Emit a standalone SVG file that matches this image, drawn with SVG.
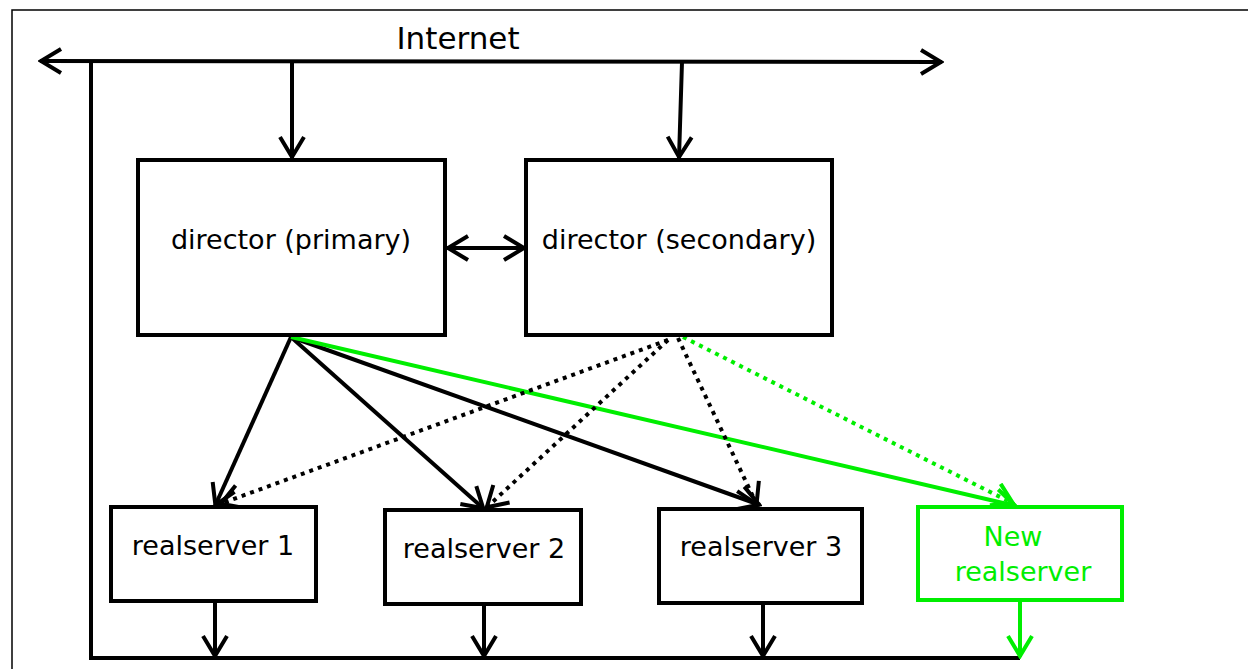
<svg xmlns="http://www.w3.org/2000/svg" width="1248" height="669" viewBox="0 0 1248 669">
<style>
.box{fill:#fff;stroke:#000;stroke-width:4}
.gbox{fill:#fff;stroke:#00ee00;stroke-width:4}
.t{font-family:"DejaVu Sans",sans-serif;font-size:27px;fill:#000;text-anchor:middle}
.gt{font-family:"DejaVu Sans",sans-serif;font-size:27px;fill:#00ee00;text-anchor:middle}
.ln{stroke:#000;stroke-width:4;fill:none}
.gl{stroke:#00ee00;stroke-width:4;fill:none}
.dot{stroke:#000;stroke-width:4;fill:none;stroke-dasharray:4 5}
.gdot{stroke:#00ee00;stroke-width:4;fill:none;stroke-dasharray:4 5}
</style>
<defs>
<marker id="a" viewBox="0 0 26 28" refX="24" refY="14" markerWidth="26" markerHeight="28" markerUnits="userSpaceOnUse" orient="auto-start-reverse">
<path d="M3,2 L23,14 L3,26" fill="none" stroke="#000" stroke-width="4"/>
</marker>
<marker id="ag" viewBox="0 0 26 28" refX="24" refY="14" markerWidth="26" markerHeight="28" markerUnits="userSpaceOnUse" orient="auto-start-reverse">
<path d="M3,2 L23,14 L3,26" fill="none" stroke="#00ee00" stroke-width="4"/>
</marker>
</defs>
<rect x="0" y="0" width="1248" height="669" fill="#fff"/>
<rect x="12" y="10" width="1300" height="700" fill="none" stroke="#000" stroke-width="1.5"/>
<g id="connectors">
<line class="ln" x1="40" y1="61" x2="942" y2="62" marker-start="url(#a)" marker-end="url(#a)"/>
<polyline class="ln" points="91,61 91,658 1020,658"/>
<line class="ln" x1="292" y1="61" x2="292" y2="158" marker-end="url(#a)"/>
<line class="ln" x1="682" y1="62" x2="679" y2="158" marker-end="url(#a)"/>
<line class="ln" x1="447" y1="248" x2="525" y2="248" marker-start="url(#a)" marker-end="url(#a)"/>
<line class="ln" x1="291" y1="337" x2="215" y2="506" marker-end="url(#a)"/>
<line class="ln" x1="291" y1="337" x2="484" y2="509" marker-end="url(#a)"/>
<line class="ln" x1="291" y1="337" x2="760" y2="505" marker-end="url(#a)"/>
<line class="gl" x1="291" y1="337" x2="1016" y2="506" marker-end="url(#ag)"/>
<line class="dot" x1="668" y1="340" x2="220" y2="504" marker-end="url(#a)"/>
<line class="dot" x1="668" y1="340" x2="486" y2="508" marker-end="url(#a)"/>
<line class="dot" x1="678" y1="338" x2="757" y2="505" marker-end="url(#a)"/>
<line class="gdot" x1="683" y1="337" x2="1014" y2="504" marker-end="url(#ag)"/>
<line class="ln" x1="215" y1="601" x2="215" y2="657" marker-end="url(#a)"/>
<line class="ln" x1="484" y1="604" x2="484" y2="657" marker-end="url(#a)"/>
<line class="ln" x1="763" y1="603" x2="763" y2="657" marker-end="url(#a)"/>
<line class="gl" x1="1020" y1="600" x2="1020" y2="657" marker-end="url(#ag)"/>
</g>
<text class="t" x="458" y="49" style="font-size:31px">Internet</text>
<g id="director-primary">
<rect class="box" x="138" y="160" width="307" height="175"/>
<text class="t" x="291" y="249">director (primary)</text>
</g>
<g id="director-secondary">
<rect class="box" x="526" y="160" width="306" height="175"/>
<text class="t" x="679" y="249">director (secondary)</text>
</g>
<g id="realserver-1">
<rect class="box" x="111" y="507" width="205" height="94"/>
<text class="t" x="213" y="555">realserver 1</text>
</g>
<g id="realserver-2">
<rect class="box" x="385" y="510" width="196" height="94"/>
<text class="t" x="484" y="558">realserver 2</text>
</g>
<g id="realserver-3">
<rect class="box" x="659" y="509" width="203" height="94"/>
<text class="t" x="761" y="556">realserver 3</text>
</g>
<g id="new-realserver">
<rect class="gbox" x="918" y="507" width="204" height="93"/>
<text class="gt" x="1013" y="546">New</text>
<text class="gt" x="1023" y="581">realserver</text>
</g>
</svg>
